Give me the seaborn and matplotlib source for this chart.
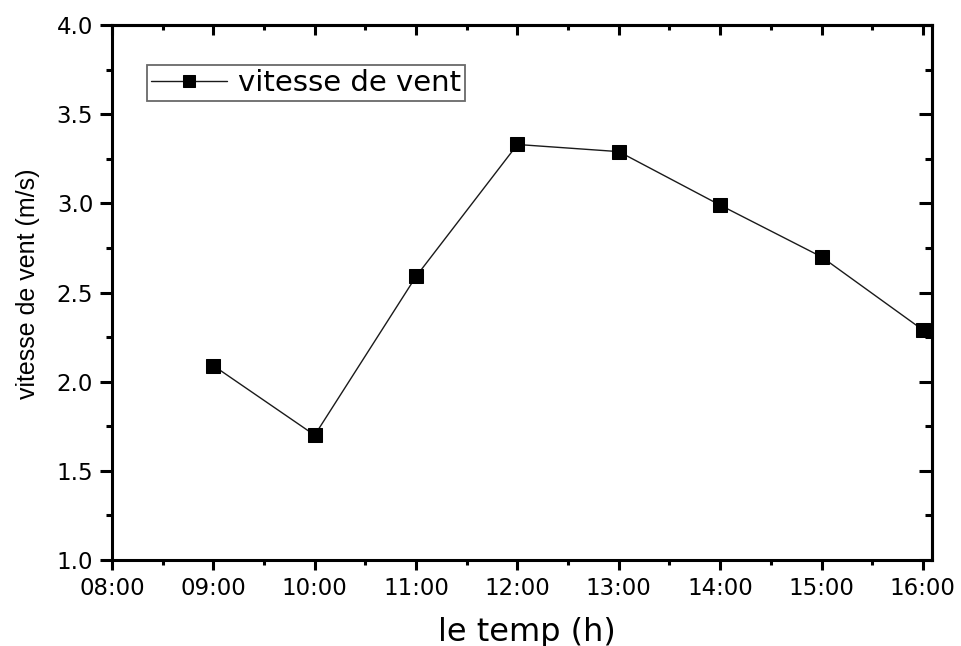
import matplotlib
matplotlib.use("Agg")
import matplotlib.pyplot as plt
from matplotlib import font_manager
from matplotlib.ticker import MultipleLocator, FuncFormatter
import seaborn as sns
import pandas as pd

hours = [9, 10, 11, 12, 13, 14, 15, 16]
wind_speed = [2.09, 1.70, 2.59, 3.33, 3.29, 2.99, 2.70, 2.29]
series_label = "vitesse de vent"
x_title = "le temp (h)"
y_title = "vitesse de vent (m/s)"

sns.set_theme(style="white")
plt.rcParams["font.family"] = ["DejaVu Sans"]
plt.rcParams.update({"text.color": "black", "axes.labelcolor": "black",
                     "xtick.color": "black", "ytick.color": "black"})

installed = {f.name for f in font_manager.fontManager.ttflist}
if "Liberation Sans Narrow" in installed:
    ylab_font, ylab_size = "Liberation Sans Narrow", 22
else:
    ylab_font, ylab_size = "Liberation Sans", 18

df = pd.DataFrame({"hour": hours, "speed": wind_speed})

fig = plt.figure(figsize=(9.62, 6.46), dpi=100)
ax = fig.add_axes([0.1164, 0.1331, 0.8524, 0.8282])

sns.lineplot(data=df, x="hour", y="speed", ax=ax, color="#1a1a1a", linewidth=1.0,
             marker="s", markersize=10, markeredgecolor="black",
             markerfacecolor="black", label=series_label, clip_on=False)

ax.set_xlim(8, 16.09)
ax.set_ylim(1.0, 4.0)

ax.xaxis.set_major_locator(MultipleLocator(1))
ax.xaxis.set_minor_locator(MultipleLocator(0.5))
ax.yaxis.set_major_locator(MultipleLocator(0.5))
ax.yaxis.set_minor_locator(MultipleLocator(0.25))
ax.xaxis.set_major_formatter(FuncFormatter(lambda v, p: f"{int(round(v)):02d}:00"))
ax.yaxis.set_major_formatter(FuncFormatter(lambda v, p: f"{v:.1f}"))

for s in ax.spines.values():
    s.set_color("black")
    s.set_linewidth(2.2)

ax.tick_params(axis="x", which="major", direction="out", length=7, width=2.2, pad=5)
ax.tick_params(axis="x", which="minor", direction="out", length=3.5, width=2.2)
ax.tick_params(axis="y", which="major", direction="out", length=8.5, width=2.2, pad=5)
ax.tick_params(axis="y", which="minor", direction="out", length=4.5, width=2.2)
ax.tick_params(which="both", colors="black", labelcolor="black", labelsize=16.5,
               bottom=True, left=True, top=False, right=False)

# mirrored inward ticks along the top and right edges
ax_top = ax.secondary_xaxis("top")
ax_top.xaxis.set_major_locator(MultipleLocator(1))
ax_top.xaxis.set_minor_locator(MultipleLocator(0.5))
ax_top.tick_params(which="major", direction="in", length=7.5, width=2.2, labeltop=False)
ax_top.tick_params(which="minor", direction="in", length=3.5, width=2.2)
ax_top.spines["top"].set_linewidth(2.2)

ax_right = ax.secondary_yaxis("right")
ax_right.yaxis.set_major_locator(MultipleLocator(0.5))
ax_right.yaxis.set_minor_locator(MultipleLocator(0.25))
ax_right.tick_params(which="major", direction="in", length=9.5, width=2.2, labelright=False)
ax_right.tick_params(which="minor", direction="in", length=5, width=2.2)
ax_right.spines["right"].set_linewidth(2.2)

ax.set_xlabel(x_title, fontsize=23, color="black")
ax.xaxis.set_label_coords(0.506, -0.106)
ax.set_ylabel(y_title, fontsize=ylab_size, family=ylab_font, color="black")
ax.yaxis.set_label_coords(-0.088, 0.516)

leg = ax.legend(loc="upper left", bbox_to_anchor=(0.0427, 0.925), borderaxespad=0,
                fontsize=21, frameon=True, fancybox=False, edgecolor="#444444",
                handlelength=2.6, handletextpad=0.37, borderpad=0.14,
                markerscale=0.85, labelcolor="black")
leg.get_frame().set_linewidth(1.3)

fig.savefig("out.png", dpi=100)
